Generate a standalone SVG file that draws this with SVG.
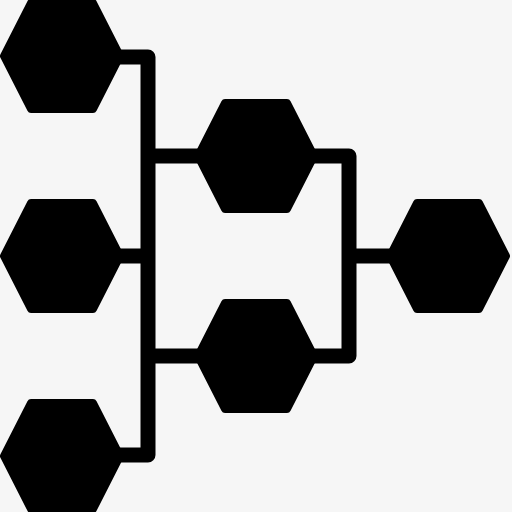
<svg xmlns="http://www.w3.org/2000/svg" width="512" height="512" viewBox="0 0 512 512">
<defs>
<style>
.hex{fill:#000;stroke:#000;stroke-width:8;stroke-linejoin:round}
.conn{fill:none;stroke:#000;stroke-width:15;stroke-linejoin:round;stroke-linecap:butt}
</style>
<path id="h" d="M-58 0 L-31 -53 L31 -53 L58 0 L31 53 L-31 53 Z"/>
</defs>
<rect width="512" height="512" fill="#f6f6f6"/>
<g id="connectors">
<path class="conn" d="M110 57 H148 V455 H110"/>
<path class="conn" d="M110 256 H148"/>
<path class="conn" d="M148 156 H210"/>
<path class="conn" d="M148 356 H210"/>
<path class="conn" d="M300 156 H349 V356 H300"/>
<path class="conn" d="M349 256 H400"/>
</g>
<g id="hex-left-top"><use href="#h" class="hex" x="62" y="56"/></g>
<g id="hex-left-mid"><use href="#h" class="hex" x="62" y="256"/></g>
<g id="hex-left-bottom"><use href="#h" class="hex" x="62" y="456"/></g>
<g id="hex-mid-top"><use href="#h" class="hex" x="256" y="156"/></g>
<g id="hex-mid-bottom"><use href="#h" class="hex" x="256" y="356"/></g>
<g id="hex-right"><use href="#h" class="hex" x="448" y="256"/></g>
</svg>
